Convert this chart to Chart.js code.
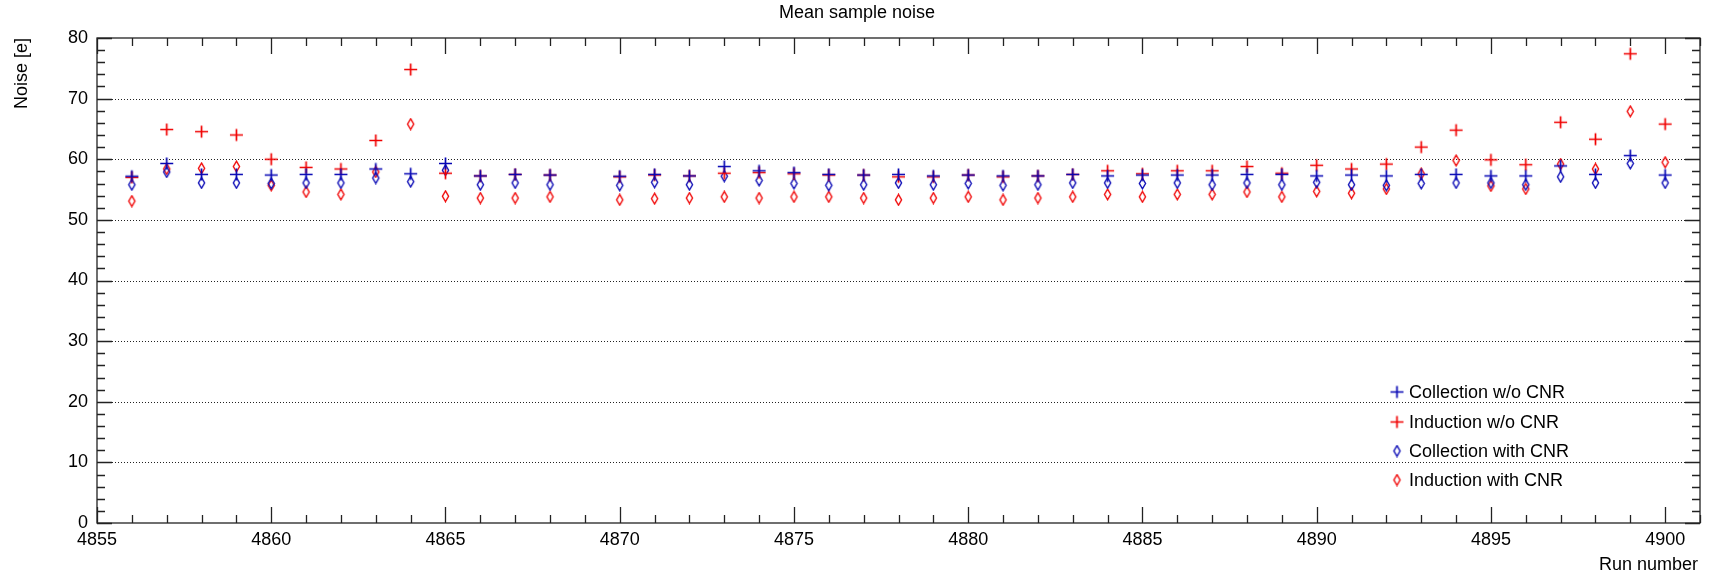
<!DOCTYPE html>
<html><head><meta charset="utf-8">
<script src="https://cdn.jsdelivr.net/npm/chart.js@4.4.1/dist/chart.umd.min.js"></script>
<style>html,body{margin:0;padding:0;background:#fff}#wrap{width:1715px;height:576px}</style>
</head><body><div id="wrap"><canvas id="c" width="1715" height="576"></canvas></div>
<script>
const runs = [4856,4857,4858,4859,4860,4861,4862,4863,4864,4865,4866,4867,4868,
  4870,4871,4872,4873,4874,4875,4876,4877,4878,4879,4880,4881,4882,4883,4884,4885,
  4886,4887,4888,4889,4890,4891,4892,4893,4894,4895,4896,4897,4898,4899,4900];
const collNoCNR = [57.2,59.3,57.5,57.5,57.4,57.5,57.5,58.4,57.6,59.3,57.25,57.5,57.4,
  57.2,57.5,57.25,58.8,58.1,57.8,57.5,57.4,57.5,57.25,57.4,57.25,57.25,57.5,57.25,57.4,
  57.4,57.4,57.5,57.5,57.25,57.4,57.25,57.5,57.5,57.25,57.25,58.9,57.5,60.6,57.4];
const indNoCNR = [57.0,64.9,64.55,64.0,60.0,58.65,58.4,63.1,74.8,57.7,57.25,57.5,57.4,
  57.1,57.4,57.25,57.7,57.8,57.6,57.4,57.4,57.1,57.1,57.4,57.1,57.25,57.5,58.1,57.6,
  58.1,58.1,58.8,57.7,59.0,58.4,59.2,62.0,64.8,59.9,59.1,66.1,63.3,77.4,65.8];
const collCNR = [55.8,57.9,56.1,56.1,56.0,56.1,56.1,56.9,56.3,58.2,55.8,56.1,55.8,
  55.7,56.2,55.8,57.2,56.5,56.0,55.7,55.8,56.1,55.8,56.0,55.7,55.8,56.1,56.1,56.0,
  56.1,55.8,56.1,55.8,56.2,55.8,55.7,56.0,56.1,56.1,55.8,57.1,56.1,59.3,56.1];
const indCNR = [53.1,58.4,58.5,58.8,55.7,54.6,54.2,57.9,65.8,53.9,53.6,53.6,53.8,
  53.3,53.5,53.6,53.8,53.6,53.8,53.8,53.6,53.3,53.6,53.8,53.3,53.6,53.8,54.2,53.8,
  54.2,54.2,54.6,53.8,54.7,54.4,55.1,57.6,59.8,55.6,55.1,59.2,58.4,67.9,59.5];
const seriesLabels = ['Collection w/o CNR','Induction w/o CNR','Collection with CNR','Induction with CNR'];
const yTickValues = [0,10,20,30,40,50,60,70,80];
const xTickValues = [4855,4860,4865,4870,4875,4880,4885,4890,4895,4900];

const BLUE = '#0606b4', RED = '#f00000';
const FONT = "'Liberation Sans', Arial, Helvetica, sans-serif";

function crossImg(color){
  const c = document.createElement('canvas'); c.width = 15; c.height = 15;
  const g = c.getContext('2d'); g.strokeStyle = color; g.lineWidth = 1.7;
  g.beginPath(); g.moveTo(1,7.5); g.lineTo(14,7.5); g.moveTo(7.5,1.5); g.lineTo(7.5,13.5); g.stroke();
  return c;
}
function diamondImg(color){
  const c = document.createElement('canvas'); c.width = 11; c.height = 13;
  const g = c.getContext('2d'); g.strokeStyle = color; g.lineWidth = 1.35;
  g.beginPath(); g.moveTo(5.5,1.2); g.lineTo(8.6,6.5); g.lineTo(5.5,11.8); g.lineTo(2.4,6.5); g.closePath(); g.stroke();
  return c;
}
const styles = [crossImg(BLUE), crossImg(RED), diamondImg(BLUE), diamondImg(RED)];
const allSeries = [collNoCNR, indNoCNR, collCNR, indCNR];
const colors = [BLUE, RED, BLUE, RED];

const datasets = allSeries.map((vals, i) => ({
  label: seriesLabels[i],
  data: runs.map((r, k) => ({x: r, y: vals[k]})),
  pointStyle: styles[i], pointRadius: 6, borderColor: colors[i], backgroundColor: colors[i],
  showLine: false
}));

const rootPlugin = {
  id: 'rootStyle',
  beforeDatasetsDraw(chart){
    const {ctx, chartArea: a, scales: {y}} = chart;
    ctx.save(); ctx.strokeStyle = '#222'; ctx.lineWidth = 1; ctx.setLineDash([1,2]);
    for (let v = 10; v < 80; v += 10){
      const py = Math.round(y.getPixelForValue(v)) + 0.5;
      ctx.beginPath(); ctx.moveTo(a.left, py); ctx.lineTo(a.right, py); ctx.stroke();
    }
    ctx.restore();
  },
  afterDraw(chart){
    const {ctx, chartArea: a, scales: {x, y}} = chart;
    ctx.save();
    ctx.strokeStyle = '#222'; ctx.lineWidth = 1.3; ctx.setLineDash([]);
    ctx.strokeRect(a.left, a.top, a.right - a.left, a.bottom - a.top);
    ctx.beginPath();
    for (let v = 0; v <= 80; v += 2){
      const py = Math.round(y.getPixelForValue(v)) + 0.5;
      const len = (v % 10 === 0) ? 15 : 8;
      ctx.moveTo(a.left, py); ctx.lineTo(a.left + len, py);
      ctx.moveTo(a.right, py); ctx.lineTo(a.right - len, py);
    }
    for (let v = 4855; v <= 4901; v += 1){
      const px = Math.round(x.getPixelForValue(v)) + 0.5;
      const len = (v % 5 === 0) ? 16 : 8;
      ctx.moveTo(px, a.bottom); ctx.lineTo(px, a.bottom - len);
      ctx.moveTo(px, a.top); ctx.lineTo(px, a.top + len);
    }
    ctx.stroke();
    // title
    ctx.fillStyle = '#000';
    ctx.font = '18px ' + FONT; ctx.textAlign = 'center'; ctx.textBaseline = 'middle';
    ctx.fillText('Mean sample noise', 857, 13);
    // axis titles
    ctx.textAlign = 'right';
    ctx.fillText('Run number', 1698, 565);
    ctx.save(); ctx.translate(22, a.top); ctx.rotate(-Math.PI/2);
    ctx.textAlign = 'right'; ctx.fillText('Noise [e]', 0, 0); ctx.restore();
    // legend
    const ly = [392, 422, 451, 480];
    ctx.textAlign = 'left'; ctx.textBaseline = 'middle';
    chart.data.datasets.forEach((ds, i) => {
      const img = ds.pointStyle;
      ctx.drawImage(img, 1397 - img.width/2, ly[i] - img.height/2);
      ctx.fillStyle = '#000';
      ctx.fillText(ds.label, 1409, ly[i] + 1);
    });
    ctx.restore();
  }
};

new Chart(document.getElementById('c'), {
  type: 'scatter',
  data: {datasets},
  options: {
    responsive: false, animation: false, devicePixelRatio: 1, events: [],
    layout: {padding: {top: 38, right: 15, left: 0, bottom: 0}},
    plugins: {legend: {display: false}, title: {display: false}, tooltip: {enabled: false}},
    scales: {
      x: {
        type: 'linear', min: 4855, max: 4901,
        grid: {display: false, drawTicks: false}, border: {display: false},
        afterBuildTicks: s => { s.ticks = xTickValues.map(v => ({value: v})); },
        ticks: {autoSkip: false, maxRotation: 0, padding: 6, color: '#000', font: {family: FONT, size: 18},
                callback: v => String(v)},
        afterFit: s => { s.height = 53; }
      },
      y: {
        type: 'linear', min: 0, max: 80,
        grid: {display: false, drawTicks: false}, border: {display: false},
        afterBuildTicks: s => { s.ticks = yTickValues.map(v => ({value: v})); },
        ticks: {padding: 9, color: '#000', font: {family: FONT, size: 18}},
        afterFit: s => { s.width = 97; }
      }
    }
  },
  plugins: [rootPlugin]
});
</script></body></html>
